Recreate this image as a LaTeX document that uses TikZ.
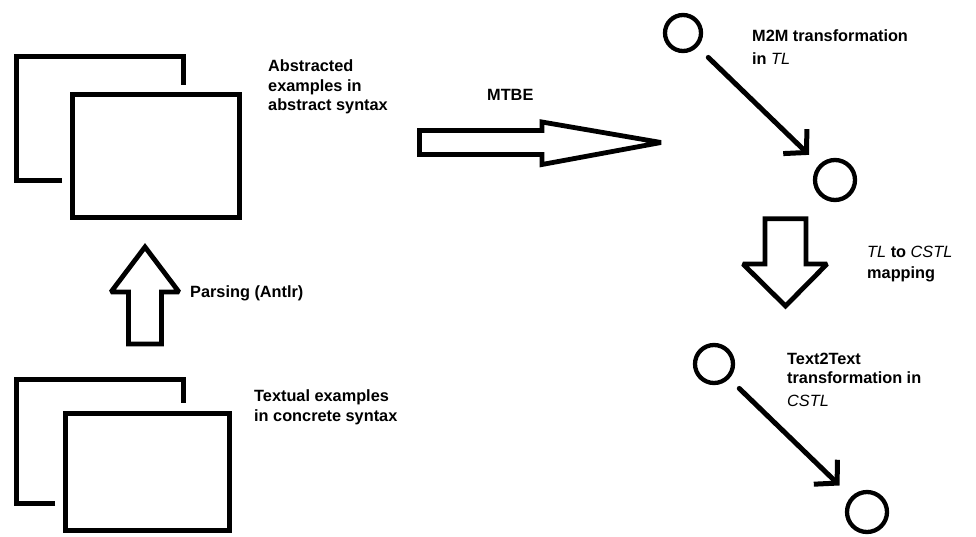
\documentclass[tikz,border=0pt]{standalone}
\usepackage{fontspec}
\setmainfont{Liberation Sans}
\usetikzlibrary{arrows.meta}
\newcommand{\hwtxt}[1]{{\mdseries\itshape #1}}
\begin{document}
\begin{tikzpicture}[x=1pt,y=-1pt,
  lbl/.style={anchor=base west, inner sep=0pt, align=left, font=\fontsize{16.3}{19.5}\selectfont\bfseries},
  boxline/.style={line width=5.5pt},
  frontbox/.style={draw, line width=5.5pt, inner sep=0pt},
  blockarrow/.style={line width=4.8pt, line join=miter, miter limit=2},
  circ/.style={circle, draw, line width=4.3pt, inner sep=0pt},
  diag/.style={line width=5pt, line cap=round, -{Straight Barb[length=16pt,width=34pt]}},
]
\useasboundingbox[fill=white] (0,0) rectangle (976,536);

% top group: abstracted examples
\draw[boxline] (62,180.5) -- (16.5,180.5) -- (16.5,56.5) -- (183.5,56.5) -- (183.5,84.5);
\node[frontbox, minimum width=167pt, minimum height=123pt] (absbox) at (156,156) {};
\node[lbl] (abstxt) at (268,110.7) {Abstracted\\examples in\\abstract syntax};

% bottom group: textual examples
\draw[boxline] (55,503.5) -- (16.5,503.5) -- (16.5,379.5) -- (183.5,379.5) -- (183.5,403);
\node[frontbox, minimum width=164pt, minimum height=117pt] (txtbox) at (147.5,472) {};
\node[lbl] (txttxt) at (254,421) {Textual examples\\in concrete syntax};

% parsing arrow
\draw[blockarrow] (128.5,344) -- (128.5,292) -- (111,292) -- (145,247) -- (179,292) -- (161.5,292) -- (161.5,344) -- cycle;
\node[lbl] (parsetxt) at (190,297) {Parsing (Antlr)};

% MTBE arrow
\draw[blockarrow] (419.5,130.5) -- (542,130.5) -- (542,122) -- (661,142.5) -- (542,164.5) -- (542,154.5) -- (419.5,154.5) -- cycle;
\node[lbl] (mtbetxt) at (487,100) {MTBE};

% M2M transformation
\node[circ, minimum size=36pt] (c1) at (683,33) {};
\node[circ, minimum size=40pt] (c2) at (835,180) {};
\draw[diag, shorten <=15pt, shorten >=14pt] (c1) -- (c2);
\node[lbl] (m2mtxt) at (752,41) {M2M transformation};
\node[lbl] (m2mtxt2) at (752,64.5) {in \hwtxt{TL}};

% mapping arrow
\draw[blockarrow] (765,218.7) -- (806,218.7) -- (806,264) -- (827,264) -- (785.5,306) -- (743,264) -- (765,264) -- cycle;
\node[lbl] (maptxt) at (867,257) {\hwtxt{TL} to \hwtxt{CSTL}};
\node[lbl] (maptxt2) at (867,278.3) {mapping};

% Text2Text transformation
\node[circ, minimum size=38pt] (c3) at (714,364) {};
\node[circ, minimum size=40pt] (c4) at (867,512) {};
\draw[diag, shorten <=14pt, shorten >=16pt] (c3) -- (c4);
\node[lbl] (t2ttxt) at (787,383.5) {Text2Text\\transformation in};
\node[lbl] (t2ttxt2) at (787,406) {\hwtxt{CSTL}};
\end{tikzpicture}
\end{document}
